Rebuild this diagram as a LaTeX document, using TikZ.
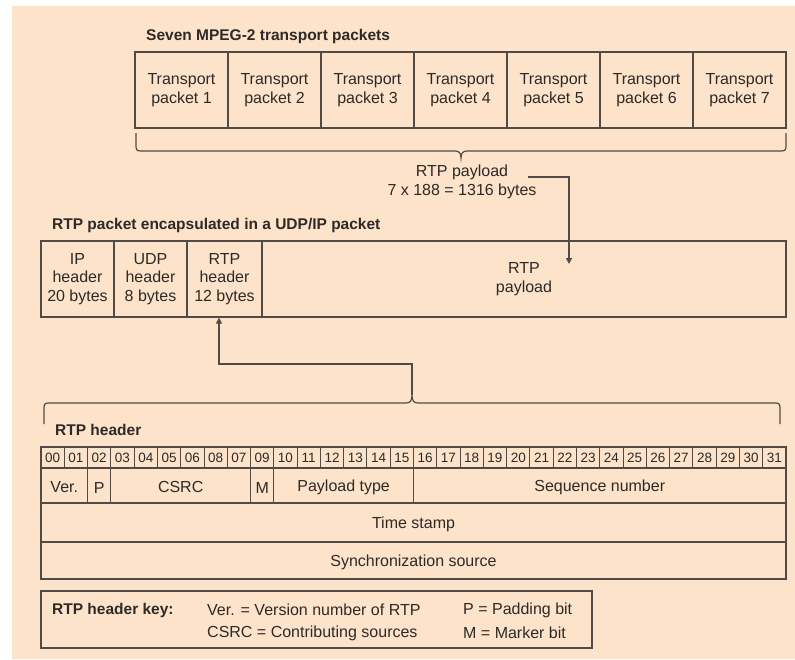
\documentclass[tikz,border=0pt]{standalone}
\usepackage{fontspec}
\setmainfont{Liberation Sans}
\usetikzlibrary{arrows.meta}
\definecolor{bg}{RGB}{252,227,201}
\definecolor{ln}{RGB}{80,75,70}
\definecolor{tx}{RGB}{45,42,40}
\begin{document}
\begin{tikzpicture}[x=1pt,y=-1pt,
  every node/.style={text=tx, font=\fontsize{16}{18.5}\selectfont, inner sep=0pt},
  box/.style={draw=ln, line width=1.3pt, align=center, execute at begin node={\rule{0pt}{15pt}}},
  ebox/.style={draw=ln, line width=1.3pt},
  ttl/.style={font=\fontsize{15.5}{18}\selectfont\bfseries, anchor=west},
  bitc/.style={draw=ln, line width=0.9pt, minimum width=23.28pt, minimum height=21pt, font=\fontsize{13.5}{15}\selectfont},
  conn/.style={draw=ln, line width=1.3pt},
  tip/.style={-{Triangle[length=6pt,width=6pt]}},
  keytxt/.style={anchor=west}
]
\useasboundingbox (0,0) rectangle (795,659);
\fill[white] (0,0) rectangle (795,659);
\fill[bg] (12,6) rectangle (795,659);

% Title 1 and transport packets
\node[ttl] (t1) at (146,36) {Seven MPEG-2 transport packets};
\foreach \i in {1,...,7} {
  \node[box, minimum width=93pt, minimum height=76pt] (tp\i) at ({135+93*(\i-0.5)},90) {Transport\\packet \i};
}
% brace under packets
\draw[conn, line width=1.2pt] (136,133) -- (136,146) .. controls (136,150) and (137,151) .. (141,151)
  -- (455,151) .. controls (459,151) and (461,153) .. (461,158)
  .. controls (461,153) and (463,151) .. (467,151) -- (781,151)
  .. controls (785,151) and (786,150) .. (786,146) -- (786,133);
\node[align=center] (pl) at (462,182) {RTP payload\\7 x 188 = 1316 bytes};

% Title 2 and packet row
\node[ttl] (t2) at (52,225) {RTP packet encapsulated in a UDP/IP packet};
\node[box, minimum width=73pt, minimum height=76pt] (ip) at (77.5,279) {IP\\header\\20 bytes};
\node[box, minimum width=73pt, minimum height=76pt] (udp) at (150.5,279) {UDP\\header\\8 bytes};
\node[box, minimum width=75pt, minimum height=76pt] (rtph) at (224.5,279) {RTP\\header\\12 bytes};
\node[box, minimum width=524pt, minimum height=76pt] (pay) at (524,279) {RTP\\payload};

% arrow from payload label to payload box
\coordinate (c1) at (528,177);
\coordinate (a1) at (569,264);
\draw[conn, tip] (c1) -| (a1);

% bottom brace
\draw[conn, line width=1.2pt] (44,424) -- (44,408) .. controls (44,404) and (45,403) .. (49,403)
  -- (406,403) .. controls (410,403) and (412,401) .. (412,395)
  .. controls (412,401) and (414,403) .. (418,403) -- (775,403)
  .. controls (779,403) and (780,404) .. (780,408) -- (780,424);
\coordinate (bt) at (412,395);
\draw[conn, tip] (bt) -- (412,364) -| ([xshift=-5.5pt]rtph.south);

% RTP header
\node[ttl] (t3) at (55,430) {RTP header};
\foreach \lab [count=\i from 0] in {00,01,02,03,04,05,06,08,07,09,10,11,12,13,14,15,16,17,18,19,20,21,22,23,24,25,26,27,28,29,30,31} {
  \node[bitc] (b\i) at ({41+23.28125*(\i+0.5)},457.5) {\lab};
}
\node[box, minimum width=46.56pt, minimum height=35pt] (ver) at (64.28,485.5) {Ver.};
\node[box, minimum width=23.28pt, minimum height=35pt] (pb) at (99.2,485.5) {P};
\node[box, minimum width=139.69pt, minimum height=35pt] (csrc) at (180.69,485.5) {CSRC};
\node[box, minimum width=23.28pt, minimum height=35pt] (mb) at (262.17,485.5) {M};
\node[box, minimum width=139.69pt, minimum height=35pt] (pt) at (343.66,485.5) {Payload type};
\node[box, minimum width=372.5pt, minimum height=35pt] (sn) at (599.75,485.5) {Sequence number};
\node[box, minimum width=745pt, minimum height=39pt] (ts) at (413.5,522.5) {Time stamp};
\node[box, minimum width=745pt, minimum height=37pt] (ss) at (413.5,560.5) {Synchronization source};
\draw[ln, line width=1.5pt] (41,447) rectangle (786,579);

% key
\node[ebox, minimum width=551pt, minimum height=57pt] (key) at (316.5,619.5) {};
\node[ttl] (k0) at (52,610) {RTP header key:};
\node[keytxt] (k1) at (207,610) {Ver. = Version number of RTP};
\node[keytxt] (k2) at (207,633) {CSRC = Contributing sources};
\node[keytxt] (k3) at (463,610) {P = Padding bit};
\node[keytxt] (k4) at (463,633) {M = Marker bit};
\end{tikzpicture}
\end{document}
